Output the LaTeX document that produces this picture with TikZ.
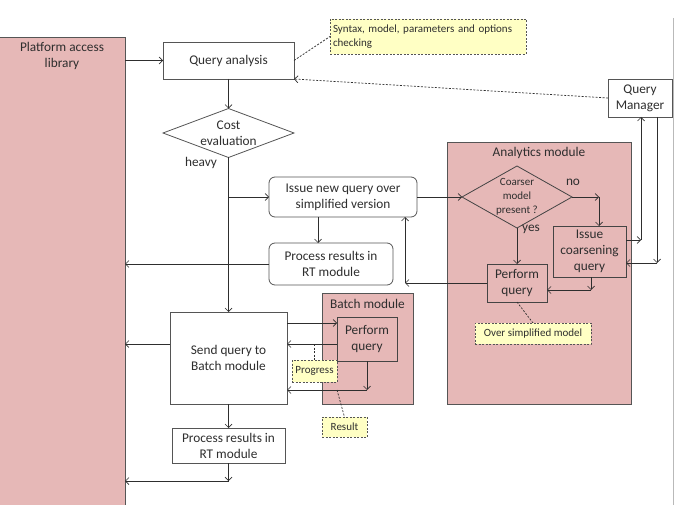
\documentclass[tikz,border=0pt]{standalone}
\usepackage{fontspec}
\setmainfont{Carlito}
\usetikzlibrary{arrows.meta,shapes.geometric}
\definecolor{pinkfill}{HTML}{E6B8B7}
\definecolor{edge}{HTML}{555555}
\definecolor{notefill}{HTML}{FFFFC4}
\definecolor{ink}{HTML}{2E2E2E}
\begin{document}
\begin{tikzpicture}[x=1pt,y=-1pt,
 every node/.style={inner sep=0pt, outer sep=0pt, text=ink},
 main/.style={font=\fontsize{13.3}{16}\selectfont, align=center},
 small/.style={font=\fontsize{11}{14}\selectfont, align=center},
 box/.style={draw=edge, line width=0.8pt, fill=white, main},
 rbox/.style={box, rounded corners=6pt},
 module/.style={draw=edge, line width=0.8pt, fill=pinkfill},
 pbox/.style={draw=edge!80!black, line width=0.8pt, fill=pinkfill, main},
 note/.style={draw=edge, dash pattern=on 2pt off 1.5pt, fill=notefill, small, line width=0.7pt},
 arr/.style={draw=ink, line width=0.7pt, -{Straight Barb[length=3.5pt,width=7pt]}},
 dline/.style={draw=ink, line width=0.7pt, dash pattern=on 2pt off 1.5pt},
 lbl/.style={main},
]
\useasboundingbox (0,0) rectangle (677,505);
% page edge line
\draw[draw=gray!55, line width=0.8pt] (673.5,18) -- (673.5,505);

% modules
\node[module, minimum width=126pt, minimum height=469pt] (lib) at (62,271.5) {};
\node[main] (libtxt) at (62,56) {Platform access\\library};
\node[module, minimum width=184pt, minimum height=262pt] (anl) at (539,273) {};
\node[main] (anltxt) at (539,153) {Analytics module};
\node[module, minimum width=91pt, minimum height=111pt] (bat) at (367.5,348.5) {};
\node[main] (battxt) at (367.5,304) {Batch module};

% main flow
\node[box, minimum width=131pt, minimum height=37pt] (qa) at (228.5,60.5) {Query analysis};
\node[diamond, draw=edge, line width=0.8pt, fill=white, minimum width=131pt, minimum height=49pt] (ce) at (228.5,133) {};
\node[main] (cetxt) at (228.5,133) {Cost\\evaluation};
\node[lbl] (heavy) at (201,163) {heavy};
\node[rbox, minimum width=148pt, minimum height=40pt] (iq) at (343,197) {Issue new query over\\simplified version};
\node[rbox, minimum width=124pt, minimum height=42pt] (pr1) at (331,264) {Process results in\\RT module};
\node[box, minimum width=117pt, minimum height=92pt] (sq) at (228.5,358) {Send query to\\Batch module};
\node[box, minimum width=113pt, minimum height=35pt] (pr2) at (228.5,445.5) {Process results in\\RT module};
\node[pbox, minimum width=60pt, minimum height=44pt] (bp) at (367,339) {Perform\\query};

% analytics module content
\node[diamond, draw=edge!80!black, line width=0.8pt, fill=pinkfill, minimum width=110pt, minimum height=62pt] (cm) at (517,197) {};
\node[small] (cmtxt) at (517,197) {Coarser\\model\\present ?};
\node[lbl] (no) at (573,182) {no};
\node[lbl] (yes) at (531,229) {yes};
\node[pbox, minimum width=73pt, minimum height=51pt] (ic) at (589.5,251.5) {Issue\\coarsening\\query};
\node[pbox, minimum width=60pt, minimum height=38pt] (ap) at (517,283) {Perform\\query};
\node[box, minimum width=64pt, minimum height=38pt] (qm) at (640,98) {Query\\Manager};

% notes
\node[note, text width=190pt, align=left, inner xsep=3pt, minimum height=35pt] (syn) at (428,36.5) {Syntax, model, parameters and options\\checking};
\node[note, minimum width=116pt, minimum height=21pt] (osm) at (533,333.5) {Over simplified model};
\node[note, minimum width=45pt, minimum height=22pt] (prog) at (314.5,371) {Progress};
\node[note, minimum width=45pt, minimum height=20pt] (res) at (344.5,427) {Result};

% helper coordinates
\coordinate (y323) at (0,323);
\coordinate (y344) at (0,344);
\coordinate (y390) at (0,390);
\coordinate (y481) at (0,481);
\coordinate (y290) at (0,290);
\coordinate (y240) at (0,240);
\coordinate (y263) at (0,263);
\coordinate (x318) at (318,0);
\coordinate (x405) at (405,0);
\coordinate (x599) at (599,0);
\coordinate (x591) at (591,0);
\coordinate (x641) at (641,0);
\coordinate (x657) at (657,0);
\coordinate (x314) at (314.5,0);
\coordinate (x337) at (337,0);

% connectors
\draw[arr] (lib.east |- qa.west) -- (qa.west);
\draw[arr] (qa.south) -- (ce.north);
\draw[arr] (ce.south) -- (sq.north);
\draw[arr] (ce.south |- iq.west) -- (iq.west);
\draw[arr] (x318 |- iq.south) -- (x318 |- pr1.north);
\draw[arr] (pr1.west) -- (lib.east |- pr1.west);
\draw[arr] (iq.east) -- (cm.west);
\draw[arr] (cm.east) -- (x599 |- cm.east);
\draw[arr] (x599 |- cm.east) -- (x599 |- ic.north);
\draw[arr] (cm.south) -- (ap.north);
\draw[arr] (x591 |- ic.south) -- (x591 |- y290);
\draw[arr] (x591 |- y290) -- (ap.east |- y290);
\draw[arr] (ap.west) -- (x405 |- ap.west);
\draw[arr] (x405 |- ap.west) -- (x405 |- iq.south);
\draw[arr] (ic.east |- y240) -- (x641 |- y240);
\draw[arr] (x641 |- y240) -- (x641 |- qm.south);
\draw[arr] (x657 |- qm.south) -- (x657 |- y263);
\draw[arr] (x657 |- y263) -- (ic.east |- y263);
\draw[dline, -{Straight Barb[length=3.5pt,width=7pt]}] (qm.west) -- (qa.south east);
\draw[dline] (qa.east) -- (syn.west);
\draw[dline] (ap.south) -- (osm.north);
\draw[arr] (sq.east |- y323) -- (bp.west |- y323);
\draw[arr] (bp.west |- y344) -- (sq.east |- y344);
\draw[arr] (bp.south) -- (bp.south |- y390);
\draw[arr] (bp.south |- y390) -- (sq.east |- y390);
\draw[arr] (sq.west |- y344) -- (lib.east |- y344);
\draw[arr] (sq.south) -- (pr2.north);
\draw[arr] (pr2.south) -- (pr2.south |- y481);
\draw[arr] (pr2.south |- y481) -- (lib.east |- y481);
\draw[dline] (x314 |- y344) -- (prog.north);
\draw[dline] (x337 |- y390) -- (res.north);
\end{tikzpicture}
\end{document}
